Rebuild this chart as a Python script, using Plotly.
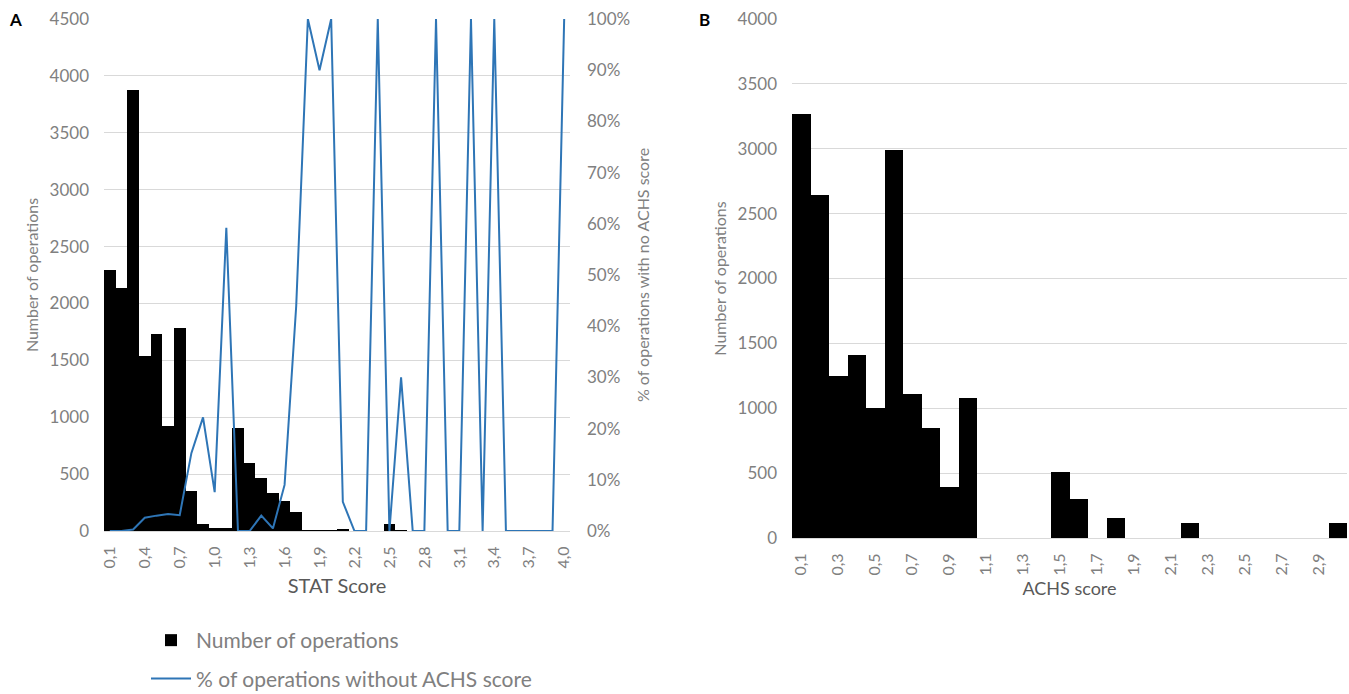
import plotly.graph_objects as go

# ---------------- Panel A data ----------------
stat_scores = ["0,1", "0,2", "0,3", "0,4", "0,5", "0,6", "0,7", "0,8", "0,9", "1,0",
               "1,1", "1,2", "1,3", "1,4", "1,5", "1,6", "1,7", "1,8", "1,9", "2,0",
               "2,1", "2,2", "2,3", "2,4", "2,5", "2,6", "2,7", "2,8", "2,9", "3,0",
               "3,1", "3,2", "3,3", "3,4", "3,5", "3,6", "3,7", "3,8", "3,9", "4,0"]
stat_counts = [2290, 2140, 3880, 1540, 1730, 920, 1785, 350, 65, 25,
               25, 905, 600, 470, 330, 260, 165, 5, 5, 5,
               15, 0, 0, 0, 60, 5, 0, 0, 0, 0,
               0, 0, 0, 0, 0, 0, 0, 0, 0, 0]
pct_without_achs = [0, 0, 0.3, 2.6, 3.0, 3.3, 3.1, 15.2, 22.2, 7.6,
                    59.2, 0, 0, 3.0, 0.5, 9.0, 44, 100, 90, 100,
                    5.7, 0, 0, 100, 0, 30, 0, 0, 100, 0,
                    0, 100, 0, 100, 0, 0, 0, 0, 0, 100]
stat_tick_labels = ["0,1", "0,4", "0,7", "1,0", "1,3", "1,6", "1,9", "2,2",
                    "2,5", "2,8", "3,1", "3,4", "3,7", "4,0"]

# ---------------- Panel B data ----------------
achs_scores = ["0,1", "0,2", "0,3", "0,4", "0,5", "0,6", "0,7", "0,8", "0,9", "1,0",
               "1,1", "1,2", "1,3", "1,4", "1,5", "1,6", "1,7", "1,8", "1,9", "2,0",
               "2,1", "2,2", "2,3", "2,4", "2,5", "2,6", "2,7", "2,8", "2,9", "3,0"]
achs_counts = [3270, 2645, 1245, 1410, 1005, 2990, 1112, 845, 395, 1081,
               0, 0, 0, 0, 505, 298, 0, 157, 0, 0,
               0, 113, 0, 0, 0, 0, 0, 0, 0, 113]
achs_tick_labels = ["0,1", "0,3", "0,5", "0,7", "0,9", "1,1", "1,3", "1,5",
                    "1,7", "1,9", "2,1", "2,3", "2,5", "2,7", "2,9"]

GRID = "#d9d9d9"
TICK = "#808080"
TITLE = "#595959"
BLUE = "#2e75b6"
FONT = "Lato"

fig = go.Figure()

fig.add_trace(go.Bar(x=stat_scores, y=stat_counts, name="Number of operations",
                     marker=dict(color="black", line=dict(width=0)),
                     xaxis="x", yaxis="y", legendgroup="a"))
fig.add_trace(go.Scatter(x=stat_scores, y=pct_without_achs, mode="lines",
                         name="% of operations without ACHS score",
                         line=dict(color=BLUE, width=2),
                         xaxis="x", yaxis="y3", legendgroup="b"))
fig.add_trace(go.Bar(x=achs_scores, y=achs_counts, name="Number of operations",
                     marker=dict(color="black", line=dict(width=0)),
                     xaxis="x2", yaxis="y2", showlegend=False))

W, H = 1349, 694
axA = [104 / W, 570 / W]
axB = [792 / W, 1347 / W]
yA = [1 - 531 / H, 1 - 19 / H]
yB = [1 - 538 / H, 1 - 19 / H]

fig.update_layout(
    width=W, height=H,
    margin=dict(l=0, r=0, t=0, b=0, autoexpand=False),
    paper_bgcolor="white", plot_bgcolor="white",
    bargap=0,
    font=dict(family=FONT, color=TICK),
    xaxis=dict(domain=axA, anchor="y", type="category", range=[-0.5, 39.5], automargin=False,
               tickmode="array", tickvals=stat_tick_labels, ticktext=stat_tick_labels,
               tickangle=-90, tickfont=dict(size=16, color=TICK),
               showgrid=False, showline=True, linecolor=GRID, linewidth=1,
               ticks="outside", ticklen=8, tickcolor="rgba(0,0,0,0)",
               title=dict(text="STAT Score", font=dict(size=20, color=TITLE), standoff=11)),
    yaxis=dict(domain=yA, anchor="x", range=[0, 4500], dtick=500, automargin=False,
               showgrid=True, gridcolor=GRID, zeroline=False,
               tickfont=dict(size=17, color=TICK), ticklabelstandoff=14,
               title=dict(text="Number of operations", font=dict(size=16, color=TICK), standoff=6)),
    yaxis3=dict(overlaying="y", anchor="x", side="right", range=[0, 100], dtick=10,
                automargin=False,
                ticksuffix="%", showgrid=False, zeroline=False,
                tickfont=dict(size=17, color=TICK), ticklabelstandoff=16,
                title=dict(text="% of operations with no ACHS score",
                           font=dict(size=16, color=TICK), standoff=8)),
    xaxis2=dict(domain=axB, anchor="y2", type="category", range=[-0.5, 29.5], automargin=False,
                tickmode="array", tickvals=achs_tick_labels, ticktext=achs_tick_labels,
                tickangle=-90, tickfont=dict(size=16, color=TICK),
                showgrid=False, showline=True, linecolor=GRID, linewidth=1,
                ticks="outside", ticklen=8, tickcolor="rgba(0,0,0,0)",
                title=dict(text="ACHS score", font=dict(size=18, color=TITLE), standoff=7)),
    yaxis2=dict(domain=yB, anchor="x2", range=[0, 4000], dtick=500, automargin=False,
                showgrid=True, gridcolor=GRID, zeroline=False,
                tickfont=dict(size=17, color=TICK), ticklabelstandoff=14,
                title=dict(text="Number of operations", font=dict(size=16, color=TICK), standoff=6)),
    legend=dict(x=146 / W, y=1 - 620 / H, xanchor="left", yanchor="top",
                orientation="v", traceorder="grouped", tracegroupgap=8,
                font=dict(size=21, color=TICK, family=FONT),
                bgcolor="rgba(0,0,0,0)", itemwidth=40),
    annotations=[
        dict(text="<b>A</b>", x=15 / W, y=1 - 20 / H, xref="paper", yref="paper",
             xanchor="center", yanchor="middle", showarrow=False,
             font=dict(size=17, color="black", family=FONT)),
        dict(text="<b>B</b>", x=704 / W, y=1 - 20 / H, xref="paper", yref="paper",
             xanchor="center", yanchor="middle", showarrow=False,
             font=dict(size=17, color="black", family=FONT)),
    ],
)

fig.write_html("out.html")
